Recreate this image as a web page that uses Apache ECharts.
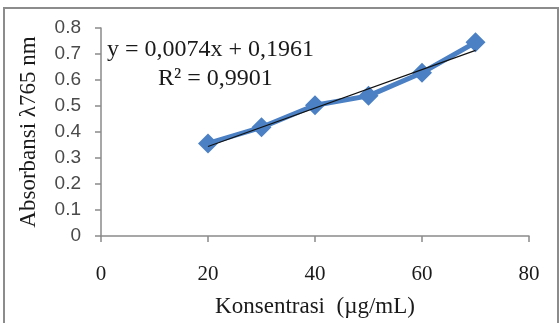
<!DOCTYPE html>
<html>
<head>
<meta charset="utf-8">
<script src="https://cdn.jsdelivr.net/npm/echarts@6/dist/echarts.min.js"></script>
<style>
  html, body { margin: 0; padding: 0; background: #fff; }
  #chart { width: 559px; height: 323px; }
</style>
</head>
<body>
<div id="chart"></div>
<script>
// data
var konsentrasi = [20, 30, 40, 50, 60, 70];
var absorbansi = [0.356, 0.418, 0.503, 0.539, 0.628, 0.745];
// linear trend line end points
var trendX = [20, 70];
var trendY = [0.344, 0.714];
var xTicks = [0, 20, 40, 60, 80];
var yTicks = [0, 0.1, 0.2, 0.3, 0.4, 0.5, 0.6, 0.7, 0.8];
var equation = 'y = 0,0074x + 0,1961';
var rSquared = 'R\u00b2 = 0,9901';

var myChart = echarts.init(document.getElementById('chart'));

var pts = [];
for (var i = 0; i < konsentrasi.length; i++) {
    pts.push([konsentrasi[i], absorbansi[i]]);
}
var trend = [];
for (var j = 0; j < trendX.length; j++) {
    trend.push([trendX[j], trendY[j]]);
}

var serif = '"Liberation Serif", "DejaVu Serif", serif';

option = {
    animation: false,
    backgroundColor: '#fff',
    grid: { left: 101, top: 28, right: 30, bottom: 84 },
    xAxis: {
        type: 'value',
        min: xTicks[0],
        max: xTicks[xTicks.length - 1],
        interval: 20,
        name: 'Konsentrasi  (\u00b5g/mL)',
        nameLocation: 'middle',
        nameGap: 59,
        nameTextStyle: { fontFamily: serif, fontSize: 23, color: '#1a1a1a' },
        axisLine: { lineStyle: { color: '#8a8a8a', width: 1.5 } },
        axisTick: { show: true, inside: false, length: 6, lineStyle: { color: '#8a8a8a', width: 1.5 } },
        axisLabel: { margin: 28, fontFamily: serif, fontSize: 21, color: '#1a1a1a' },
        splitLine: { show: false }
    },
    yAxis: {
        type: 'value',
        min: yTicks[0],
        max: yTicks[yTicks.length - 1],
        interval: 0.1,
        name: 'Absorbansi \u03bb765 nm',
        nameLocation: 'middle',
        nameGap: 61,
        nameTextStyle: { fontFamily: serif, fontSize: 23, color: '#1a1a1a' },
        axisLine: { show: true, lineStyle: { color: '#8a8a8a', width: 1.5 } },
        axisTick: { show: true, inside: false, length: 6, lineStyle: { color: '#8a8a8a', width: 1.5 } },
        axisLabel: {
            margin: 20,
            fontFamily: '"Liberation Sans", Arial, sans-serif',
            fontSize: 19,
            color: '#4a4a4a',
            formatter: function (v) { return v === 0 ? '0' : v.toFixed(1); }
        },
        splitLine: { show: false }
    },
    graphic: [
        {
            type: 'rect',
            shape: { x: 4, y: 8, width: 554, height: 330 },
            style: { fill: 'none', stroke: '#8c8c8c', lineWidth: 2 },
            silent: true
        },
        {
            type: 'text',
            left: 107,
            top: 38,
            style: { text: equation, font: '24px ' + serif, fill: '#1a1a1a' }
        },
        {
            type: 'text',
            left: 158,
            top: 67,
            style: { text: rSquared, font: '24px ' + serif, fill: '#1a1a1a' }
        }
    ],
    series: [
        {
            name: 'Absorbansi',
            type: 'line',
            data: pts,
            symbol: 'diamond',
            symbolSize: 20,
            lineStyle: { color: '#4b80c4', width: 5 },
            itemStyle: { color: '#4b80c4' },
            z: 2
        },
        {
            name: 'Linear',
            type: 'line',
            data: trend,
            symbol: 'none',
            lineStyle: { color: '#111', width: 1.2 },
            z: 3
        }
    ]
};
myChart.setOption(option);
</script>
</body>
</html>
